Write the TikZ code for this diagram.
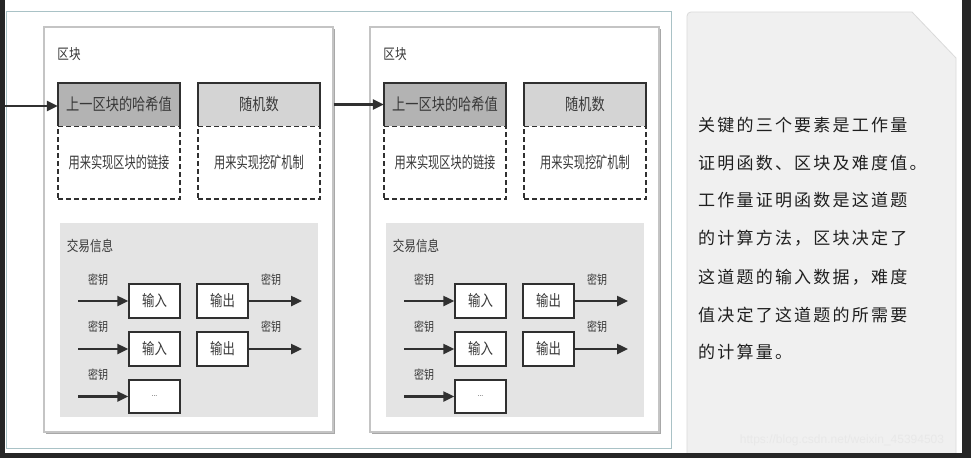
\documentclass[tikz,border=0pt]{standalone}
\usepackage{fontspec}
\setmainfont{Liberation Sans}
\newfontfamily\cjkn[FakeStretch=0.8]{Noto Sans CJK SC}
\newfontfamily\cjkc[FakeStretch=0.7]{Noto Sans CJK SC}
\newfontfamily\cjkw[LetterSpace=13]{Noto Sans CJK SC}
\usetikzlibrary{arrows.meta}
\definecolor{darkline}{HTML}{303030}
\definecolor{hashfill}{HTML}{B3B3B3}
\definecolor{randfill}{HTML}{D4D4D4}
\definecolor{txfill}{HTML}{E4E4E4}
\definecolor{blockline}{HTML}{C4C4C4}
\definecolor{blockshadow}{HTML}{A8A8A8}
\definecolor{outerline}{HTML}{A9C2C6}
\definecolor{notefill}{HTML}{F0F0F0}
\definecolor{noteline}{HTML}{DADADA}
\definecolor{txt}{HTML}{383838}
\definecolor{framecol}{HTML}{262626}
\tikzset{
  blockbox/.style={draw=blockline, line width=1.2pt, fill=white, minimum width=289pt, minimum height=405pt, inner sep=0pt},
  hdrbox/.style={minimum width=122pt, minimum height=43pt, inner sep=0pt, text=txt, font=\cjkn\fontsize{16.5}{17}\selectfont},
  dashbox/.style={draw=darkline, dash pattern=on 5pt off 3pt, line width=1.3pt, minimum width=122pt, minimum height=73pt, inner sep=0pt, text=txt, font=\cjkc\fontsize{16}{17}\selectfont},
  solidedge/.style={draw=darkline, line width=1.5pt},
  txarea/.style={fill=txfill, minimum width=258pt, minimum height=194pt, inner sep=0pt},
  iobox/.style={draw=darkline, line width=1.5pt, fill=white, minimum width=51pt, minimum height=34pt, inner sep=0pt, text=txt, font=\cjkn\fontsize{15.5}{16}\selectfont},
  keylabel/.style={text=txt, inner sep=0pt, font=\cjkn\fontsize{12.5}{13}\selectfont},
  titlelabel/.style={text=txt, inner sep=0pt, font=\cjkn\fontsize{14.5}{15}\selectfont},
  arr/.style={draw=darkline, line width=2.4pt, -{Triangle[length=11pt,width=10pt]}},
  noteline/.style={anchor=west, inner sep=0pt, text=black!88, font=\cjkw\fontsize{17}{18}\selectfont},
}
\begin{document}
\begin{tikzpicture}[x=1pt,y=-1pt]
\useasboundingbox (0,0) rectangle (971,458);
\fill[white] (0,0) rectangle (971,458);
% outer panel
\node[draw=outerline, line width=1pt, minimum width=665pt, minimum height=437pt, inner sep=0pt] (outer) at (338.5,229.5) {};
% note panel
\path[fill=notefill, draw=noteline, line width=0.8pt] (687,458) -- (687,16) [rounded corners=4pt] -- (687,12) [sharp corners] -- (912,12) -- (956,58) -- (956,458);
% blocks
\foreach \b/\dx in {1/0, 2/326}{
  \begin{scope}[xshift=\dx pt]
    \fill[blockshadow] (46,29) rectangle (335,434);
    \node[blockbox] (blk\b) at (188.5,229.5) {};
    \node[titlelabel] (blkt\b) at (69,54) {区块};
    % hash header
    \node[dashbox] (link\b) at (119,162.5) {用来实现区块的链接};
    \node[hdrbox, fill=hashfill] (hash\b) at (119,104.5) {上一区块的哈希值};
    \draw[solidedge] (hash\b.south west) -- (hash\b.north west) -- (hash\b.north east) -- (hash\b.south east);
    \node[dashbox] (mine\b) at (259,162.5) {用来实现挖矿机制};
    \node[hdrbox, fill=randfill] (rand\b) at (259,104.5) {随机数};
    \draw[solidedge] (rand\b.south west) -- (rand\b.north west) -- (rand\b.north east) -- (rand\b.south east);
    % transactions
    \node[txarea] (tx\b) at (189,320) {};
    \node[titlelabel] (txt\b) at (90,246) {交易信息};
    \node[iobox] (ina\b) at (154.5,301) {输入};
    \node[iobox] (outa\b) at (222.5,301) {输出};
    \node[iobox] (inb\b) at (154.5,349) {输入};
    \node[iobox] (outb\b) at (222.5,349) {输出};
    \node[iobox, minimum height=33pt, font=\fontsize{7}{8}\selectfont] (inc\b) at (154.5,396.5) {...};
    \coordinate (la\b) at (78,301);
    \coordinate (lb\b) at (78,349);
    \coordinate (lc\b) at (78,396.5);
    \coordinate (ra\b) at (302,301);
    \coordinate (rb\b) at (302,349);
    \draw[arr] (la\b) -- (ina\b.west);
    \draw[arr] (lb\b) -- (inb\b.west);
    \draw[arr] (lc\b) -- (inc\b.west);
    \draw[arr] (outa\b.east) -- (ra\b);
    \draw[arr] (outb\b.east) -- (rb\b);
    \node[keylabel] (ka\b) at (98,280) {密钥};
    \node[keylabel] (kb\b) at (98,327) {密钥};
    \node[keylabel] (kc\b) at (98,375) {密钥};
    \node[keylabel] (kd\b) at (271,280) {密钥};
    \node[keylabel] (ke\b) at (271,327) {密钥};
  \end{scope}
}
% chain arrows
\coordinate (start) at (4,106);
\draw[arr] (start) -- (hash1.west |- start);
\draw[arr] (blk1.east |- hash2.west) -- (hash2.west);
% note text
\node[noteline] (n1) at (698,125) {关键的三个要素是工作量};
\node[noteline] (n2) at (698,163) {证明函数、区块及难度值。};
\node[noteline] (n3) at (698,200) {工作量证明函数是这道题};
\node[noteline] (n4) at (698,238) {的计算方法，区块决定了};
\node[noteline] (n5) at (698,277) {这道题的输入数据，难度};
\node[noteline] (n6) at (698,315) {值决定了这道题的所需要};
\node[noteline] (n7) at (698,352) {的计算量。};
\node[text=black!9, inner sep=0pt, font=\fontsize{12}{13}\selectfont] (wm) at (842,440) {https://blog.csdn.net/weixin\_45394503};
% screen frame
\fill[framecol] (0,0) rectangle (4.5,458);
\fill[framecol] (0,453) rectangle (971,458);
\fill[framecol] (962,0) rectangle (971,458);
\end{tikzpicture}
\end{document}
